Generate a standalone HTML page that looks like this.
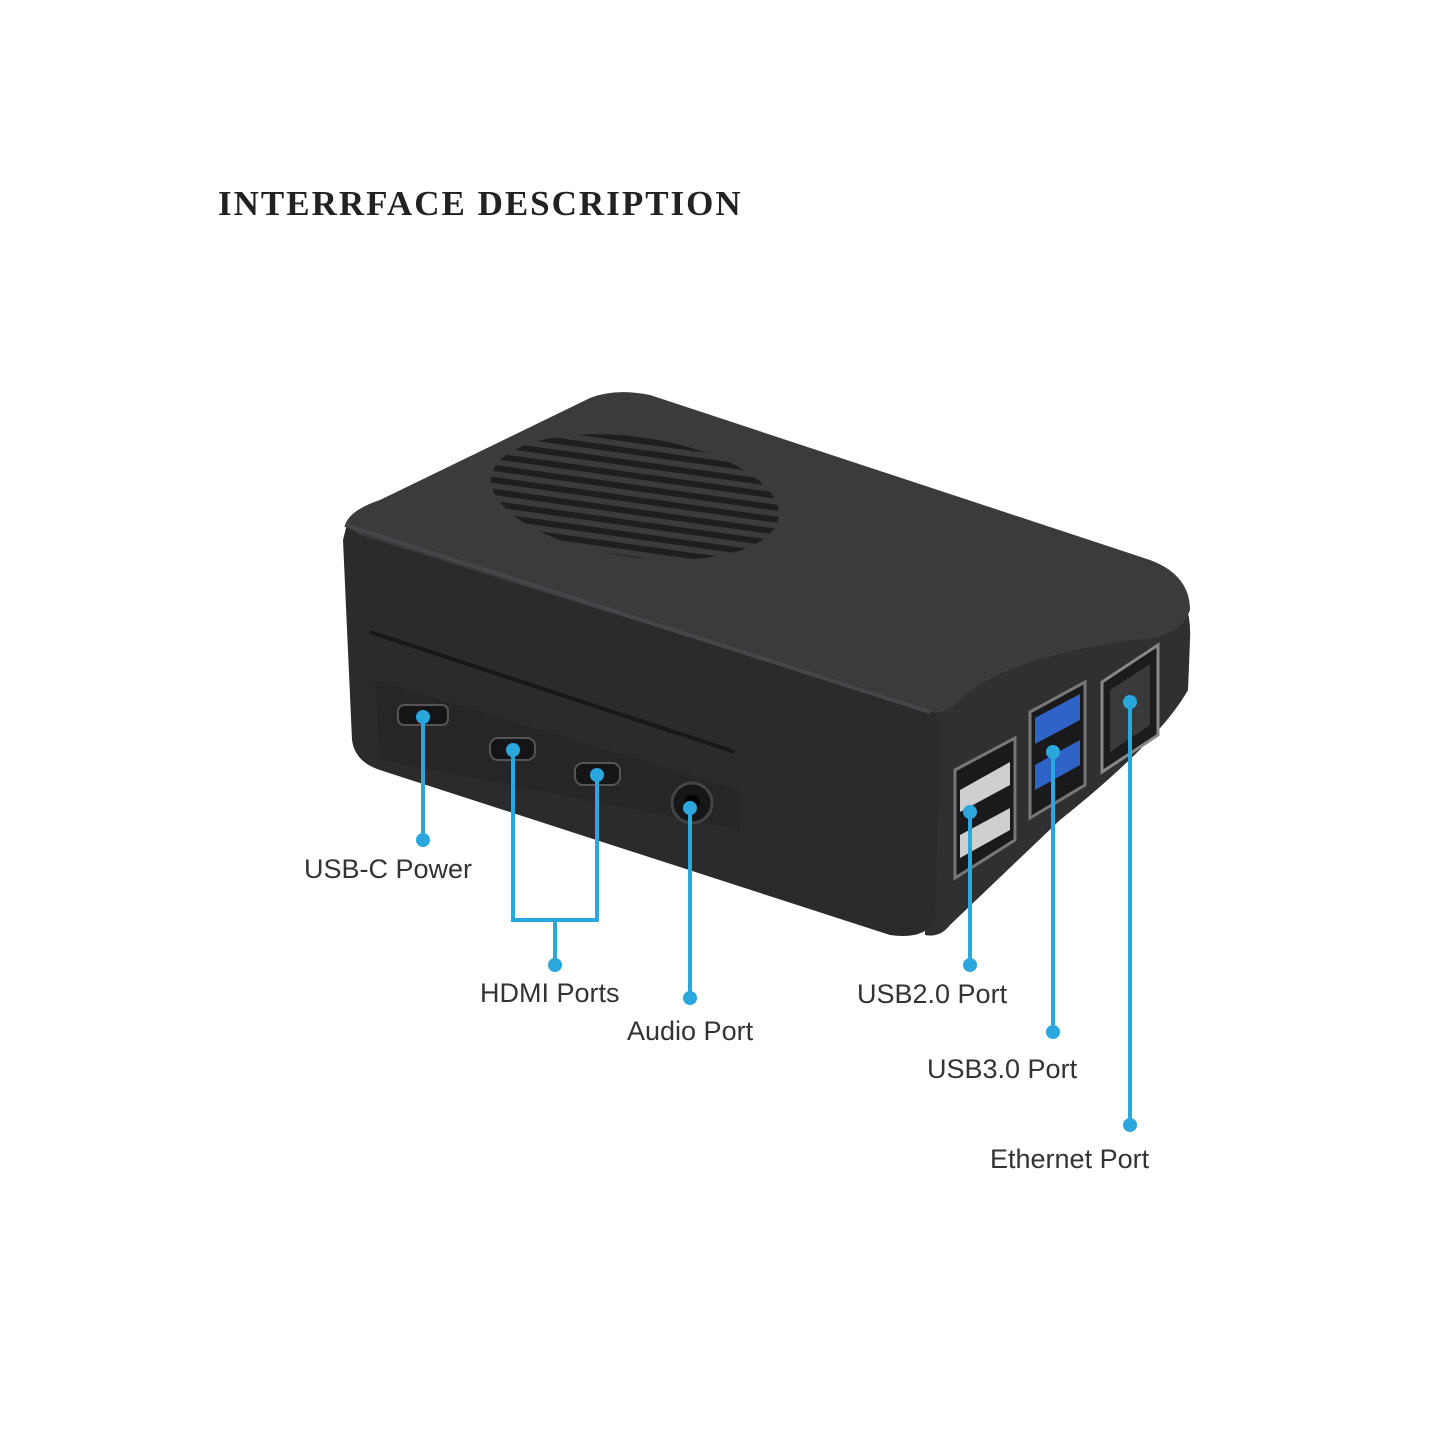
<!DOCTYPE html>
<html><head><meta charset="utf-8"><style>
html,body{margin:0;padding:0;background:#fff;width:1445px;height:1445px;overflow:hidden}
svg{display:block}
</style></head><body>
<svg width="1445" height="1445" viewBox="0 0 1445 1445" xmlns="http://www.w3.org/2000/svg">
<rect width="1445" height="1445" fill="#fff"/>
<text x="218" y="215" font-family="Liberation Serif, serif" font-weight="bold" font-size="35" fill="#222" letter-spacing="2">INTERRFACE DESCRIPTION</text>
<defs><clipPath id="fan"><ellipse cx="635" cy="497" rx="145" ry="60" transform="rotate(8 635 497)"/></clipPath></defs>
<path d="M925 712 L1170 585 Q1192 600 1190 640 L1188 690 Q1160 740 1060 820 L950 925 Q940 938 925 935 Z" fill="#303032"/>
<path d="M348 520 L930 705 Q945 725 940 760 L935 920 Q925 940 890 935 L380 770 Q355 762 352 740 L343 540 Z" fill="#2b2b2d"/>
<path d="M345 525 Q350 510 380 500 L590 398 Q615 388 650 395 L1150 560 Q1190 575 1190 610 Q1180 640 1130 640 Q1000 660 960 700 Q945 715 930 712 L360 535 Z" fill="#3b3b3e"/>
<path d="M345 525 L930 712" stroke="#46464a" stroke-width="4" fill="none"/>
<g clip-path="url(#fan)">
<ellipse cx="635" cy="497" rx="145" ry="60" transform="rotate(8 635 497)" fill="#3b3b3e"/>
<g stroke="#1e1e20" stroke-width="6">
<line x1="480" y1="430" x2="800" y2="475"/><line x1="480" y1="442" x2="800" y2="487"/>
<line x1="480" y1="454" x2="800" y2="499"/><line x1="480" y1="466" x2="800" y2="511"/>
<line x1="480" y1="478" x2="800" y2="523"/><line x1="480" y1="490" x2="800" y2="535"/>
<line x1="480" y1="502" x2="800" y2="547"/><line x1="480" y1="514" x2="800" y2="559"/>
<line x1="480" y1="526" x2="800" y2="571"/><line x1="480" y1="538" x2="800" y2="583"/>
<line x1="480" y1="418" x2="800" y2="463"/><line x1="480" y1="406" x2="800" y2="451"/>
</g></g>
<path d="M370 632 L735 752" stroke="#18181a" stroke-width="4"/>
<path d="M375 680 L740 790 L740 830 L380 760 Z" fill="#262628"/>
<rect x="398" y="705" width="50" height="20" rx="6" fill="#151517" stroke="#555" stroke-width="2"/>
<rect x="490" y="738" width="45" height="22" rx="8" fill="#151517" stroke="#555" stroke-width="2"/>
<rect x="575" y="763" width="45" height="22" rx="8" fill="#151517" stroke="#555" stroke-width="2"/>
<circle cx="692" cy="803" r="20" fill="#161618" stroke="#444" stroke-width="3"/>
<circle cx="692" cy="803" r="8" fill="#050505"/>
<path d="M955 770 L1015 738 L1015 840 L955 878 Z" fill="#1a1a1c" stroke="#777" stroke-width="3"/>
<path d="M960 790 L1010 762 L1010 785 L960 812 Z" fill="#cfcfcf"/>
<path d="M960 835 L1010 808 L1010 830 L960 858 Z" fill="#cfcfcf"/>
<path d="M1030 712 L1085 682 L1085 785 L1030 818 Z" fill="#1a1a1c" stroke="#777" stroke-width="3"/>
<path d="M1035 718 L1080 694 L1080 720 L1035 744 Z" fill="#2f63c8"/>
<path d="M1035 765 L1080 740 L1080 765 L1035 790 Z" fill="#2f63c8"/>
<path d="M1102 682 L1158 645 L1158 735 L1102 772 Z" fill="#1c1c1e" stroke="#888" stroke-width="3"/>
<path d="M1110 690 L1150 664 L1150 725 L1110 752 Z" fill="#3a3a3c"/>
<g stroke="#2aa7dc" stroke-width="4" fill="none">
<path d="M423 717 V840"/>
<path d="M513 750 V920 H597 V775"/>
<path d="M555 920 V965"/>
<path d="M690 808 V998"/>
<path d="M970 812 V965"/>
<path d="M1053 752 V1032"/>
<path d="M1130 702 V1125"/>
</g>
<g fill="#2aa7dc">
<circle cx="423" cy="717" r="7"/><circle cx="423" cy="840" r="7"/>
<circle cx="513" cy="750" r="7"/><circle cx="597" cy="775" r="7"/><circle cx="555" cy="965" r="7"/>
<circle cx="690" cy="808" r="7"/><circle cx="690" cy="998" r="7"/>
<circle cx="970" cy="812" r="7"/><circle cx="970" cy="965" r="7"/>
<circle cx="1053" cy="752" r="7"/><circle cx="1053" cy="1032" r="7"/>
<circle cx="1130" cy="702" r="7"/><circle cx="1130" cy="1125" r="7"/>
</g>
<g font-family="Liberation Sans, sans-serif" font-size="27" fill="#333">
<text x="304" y="878">USB-C Power</text>
<text x="480" y="1002">HDMI Ports</text>
<text x="627" y="1040">Audio Port</text>
<text x="857" y="1003">USB2.0 Port</text>
<text x="927" y="1078">USB3.0 Port</text>
<text x="990" y="1168">Ethernet Port</text>
</g>
</svg>
</body></html>
